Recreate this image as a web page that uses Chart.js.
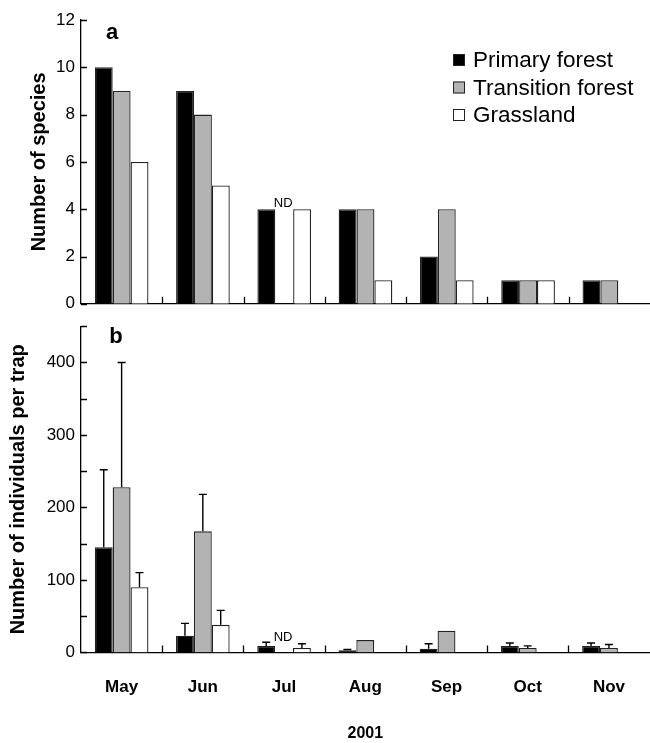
<!DOCTYPE html>
<html lang="en">
<head>
<meta charset="UTF-8">
<title>Species and individuals per trap, 2001</title>
<style>
  body {
    margin: 0;
    background: #fff;
  }
  .panel {
    position: absolute;
    left: 0;
    width: 650px;
  }
  #panel-a { top: 0; height: 320px; }
  #panel-b { top: 310px; height: 433px; }
</style>
<script src="https://cdn.jsdelivr.net/npm/chart.js"></script>
</head>
<body>

<div class="panel" id="panel-a"><canvas id="chart-species"></canvas></div>
<div class="panel" id="panel-b"><canvas id="chart-individuals"></canvas></div>

<script>
// data
const months = ['May', 'Jun', 'Jul', 'Aug', 'Sep', 'Oct', 'Nov'];
const habitats = ['Primary forest', 'Transition forest', 'Grassland'];

const speciesPrimary    = [10, 9, 4, 4, 2, 1, 1];
const speciesTransition = [9, 8, null, 4, 4, 1, 1];
const speciesGrassland  = [6, 5, 4, 1, 1, 1, 0];

const indivPrimary    = [145, 23, 9, 3, 5, 9, 9];
const indivTransition = [228, 167, null, 17, 30, 6, 6];
const indivGrassland  = [90, 38, 6, 0, 0, 0, 0];

// upper error (SE) above each bar
const errPrimary    = [107, 17, 5, 1, 7, 4, 4];
const errTransition = [172, 51, null, 0, 0, 3, 5];
const errGrassland  = [20, 20, 6, 0, 0, 0, 0];

const yearLabel = '2001';

const FONT = '"Liberation Sans", Arial, Helvetica, sans-serif';
Chart.defaults.font.family = FONT;
Chart.defaults.color = '#000';

const fills = ['#000000', '#b3b3b3', '#ffffff'];

function makeDatasets(values) {
  return values.map((v, i) => ({
    label: habitats[i],
    data: v,
    backgroundColor: fills[i],
    borderColor: '#222',
    borderWidth: 1.3,
    categoryPercentage: 0.66,
    barPercentage: 1.0
  }));
}

// short tick marks pointing into the plot
const inwardTicks = {
  id: 'inwardTicks',
  afterDraw(chart) {
    const {ctx, chartArea: a, scales: {x, y}} = chart;
    ctx.save();
    ctx.strokeStyle = '#000';
    ctx.lineWidth = 1.3;
    ctx.beginPath();
    y.ticks.forEach((t, i) => {
      const py = Math.round(y.getPixelForTick(i)) + 0.5;
      ctx.moveTo(a.left, py);
      ctx.lineTo(a.left + 6, py);
    });
    for (let i = 1; i < months.length; i++) {
      const px = Math.round((x.getPixelForValue(i - 1) + x.getPixelForValue(i)) / 2) + 0.5;
      ctx.moveTo(px, a.bottom);
      ctx.lineTo(px, a.bottom - 7);
    }
    ctx.stroke();
    ctx.restore();
  }
};

// upper-only error bars with a cap
const errorBars = {
  id: 'errorBars',
  afterDatasetsDraw(chart, args, opts) {
    if (!opts.errors) return;
    const {ctx, scales: {y}} = chart;
    ctx.save();
    ctx.strokeStyle = '#000';
    ctx.lineWidth = 1.4;
    opts.errors.forEach((errs, d) => {
      const meta = chart.getDatasetMeta(d);
      const vals = chart.data.datasets[d].data;
      errs.forEach((e, i) => {
        if (e == null || vals[i] == null || e <= 0) return;
        const bar = meta.data[i];
        const yTop = y.getPixelForValue(vals[i] + e);
        ctx.beginPath();
        ctx.moveTo(bar.x, bar.y);
        ctx.lineTo(bar.x, yTop);
        ctx.moveTo(bar.x - 4, yTop);
        ctx.lineTo(bar.x + 4, yTop);
        ctx.stroke();
      });
    });
    ctx.restore();
  }
};

// "ND" note, panel letter and the legend
const decor = {
  id: 'decor',
  afterDraw(chart, args, opts) {
    const {ctx, scales: {x, y}} = chart;
    ctx.save();
    ctx.fillStyle = '#000';

    // panel letter
    ctx.font = 'bold 22px ' + FONT;
    ctx.textAlign = 'center';
    ctx.textBaseline = 'alphabetic';
    ctx.fillText(opts.letter, opts.letterX, opts.letterY);

    // no data marker
    const nd = opts.nd;
    const px = x.getPixelForValue(nd.index) - 1;
    ctx.font = '13px ' + FONT;
    ctx.textBaseline = 'bottom';
    ctx.fillText('ND', px, y.getPixelForValue(nd.level) + 1);

    if (opts.legend) {
      const L = opts.legend;
      ctx.font = '22.5px ' + FONT;
      ctx.textAlign = 'left';
      ctx.textBaseline = 'middle';
      chart.data.datasets.forEach((ds, i) => {
        const cy = L.y + i * L.gap;
        ctx.fillStyle = ds.backgroundColor;
        ctx.fillRect(L.x, cy - 6, 12, 12);
        ctx.strokeStyle = '#222';
        ctx.lineWidth = 1;
        ctx.strokeRect(L.x + 0.5, cy - 5.5, 11, 11);
        ctx.fillStyle = '#000';
        ctx.fillText(ds.label, L.x + 20, cy + 1);
      });
    }
    ctx.restore();
  }
};

function yAxis(max, step, title, titlePad, showLabel) {
  return {
    min: 0,
    max: max,
    ticks: {
      stepSize: step,
      padding: 6,
      font: {size: 17},
      callback: showLabel
    },
    grid: {display: false, drawTicks: false},
    border: {display: true, color: '#000', width: 1.3},
    title: {
      display: true,
      text: title,
      font: {size: 20, weight: 'bold'},
      padding: {top: titlePad, bottom: 0}
    },
    afterFit: s => { s.width = 81; }
  };
}

const configSpecies = {
  type: 'bar',
  data: {
    labels: months,
    datasets: makeDatasets([speciesPrimary, speciesTransition, speciesGrassland])
  },
  options: {
    responsive: true,
    maintainAspectRatio: false,
    animation: false,
    layout: {padding: {top: 20, bottom: 1, left: 0, right: 0}},
    scales: {
      x: {
        ticks: {display: false},
        grid: {display: false, drawTicks: false},
        border: {display: true, color: '#000', width: 1.3}
      },
      y: yAxis(12, 2, 'Number of species', 27, v => v)
    },
    plugins: {
      legend: {display: false},
      tooltip: {enabled: false},
      decor: {
        letter: 'a', letterX: 112, letterY: 39,
        nd: {index: 2, level: 4},
        legend: {x: 453, y: 60, gap: 27.5}
      }
    }
  },
  plugins: [inwardTicks, decor]
};

const configIndividuals = {
  type: 'bar',
  data: {
    labels: months,
    datasets: makeDatasets([indivPrimary, indivTransition, indivGrassland])
  },
  options: {
    responsive: true,
    maintainAspectRatio: false,
    animation: false,
    layout: {padding: {top: 13, bottom: 0, left: 0, right: 0}},
    scales: {
      x: {
        ticks: {padding: 25, font: {size: 17, weight: 'bold'}},
        grid: {display: false, drawTicks: false},
        border: {display: true, color: '#000', width: 1.3},
        title: {
          display: true,
          text: yearLabel,
          font: {size: 16, weight: 'bold'},
          padding: {top: 1, bottom: 0}
        }
      },
      y: yAxis(450, 50, 'Number of individuals per trap', 6, v => (v % 100 === 0 ? v : ''))
    },
    plugins: {
      legend: {display: false},
      tooltip: {enabled: false},
      errorBars: {errors: [errPrimary, errTransition, errGrassland]},
      decor: {
        letter: 'b', letterX: 116, letterY: 33,
        nd: {index: 2, level: 13}
      }
    }
  },
  plugins: [inwardTicks, errorBars, decor]
};

new Chart(document.getElementById('chart-species'), configSpecies);
new Chart(document.getElementById('chart-individuals'), configIndividuals);
</script>
</body>
</html>
